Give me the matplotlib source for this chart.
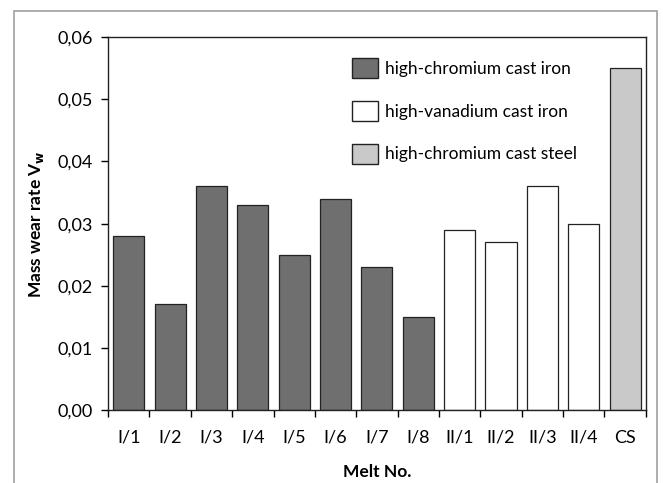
import numpy as np
import matplotlib
matplotlib.use("Agg")
import matplotlib.pyplot as plt
from matplotlib.patches import Rectangle, Patch
from matplotlib.ticker import FuncFormatter, FixedLocator

plt.rcParams['font.family'] = ['Lato', 'DejaVu Sans']

# data
melts = ["I/1", "I/2", "I/3", "I/4", "I/5", "I/6", "I/7", "I/8",
         "II/1", "II/2", "II/3", "II/4", "CS"]
wear_rate = [0.028, 0.017, 0.036, 0.033, 0.025, 0.034, 0.023, 0.015,
             0.029, 0.027, 0.036, 0.030, 0.055]
groups = ["cr_iron"] * 8 + ["v_iron"] * 4 + ["cr_steel"]
group_labels = {"cr_iron": "high-chromium cast iron",
                "v_iron": "high-vanadium cast iron",
                "cr_steel": "high-chromium cast steel"}
group_colors = {"cr_iron": "#6f6f6f", "v_iron": "#ffffff", "cr_steel": "#c9c9c9"}

fig = plt.figure(figsize=(6.63, 4.83), dpi=100)
ax = fig.add_axes([0.163, 0.151, 0.811, 0.772])

# grey outer frame like the exported chart area
fig.patches.append(Rectangle((0.021, -0.05), 0.97, 1.027, transform=fig.transFigure,
                             fill=False, edgecolor="#a0a0a0", linewidth=1.2))

x = np.arange(len(melts))
ax.bar(x, wear_rate, width=0.75, color=[group_colors[g] for g in groups],
       edgecolor="#222222", linewidth=0.9)

ax.set_xlim(-0.5, len(melts) - 0.5)
ax.set_ylim(0, 0.06)
ax.set_yticks(np.arange(0, 0.061, 0.01))
ax.yaxis.set_major_formatter(FuncFormatter(lambda v, p: f"{v:.2f}".replace(".", ",")))

# labels in the middle, tick marks between categories
ax.set_xticks(x)
ax.set_xticklabels(melts)
ax.xaxis.set_minor_locator(FixedLocator(np.arange(-0.5, len(melts), 1.0)))
ax.tick_params(axis="x", which="major", length=0, pad=14)
ax.tick_params(axis="x", which="minor", length=5, direction="out", width=1)
ax.tick_params(axis="y", length=5, direction="out", width=1, pad=6)
ax.tick_params(labelsize=13)

for s in ax.spines.values():
    s.set_color("#222222")
    s.set_linewidth(1)

ax.set_xlabel("Melt No.", fontsize=12.5, fontweight="bold", labelpad=13)
ax.set_ylabel(r"Mass wear rate V$_\mathbf{w}$", fontsize=12.5, fontweight="bold", labelpad=8)

handles = [Patch(facecolor=group_colors[k], edgecolor="#222222", label=group_labels[k])
           for k in ["cr_iron", "v_iron", "cr_steel"]]
ax.legend(handles=handles, loc="upper left", bbox_to_anchor=(0.425, 0.985), frameon=False,
          fontsize=12.5, handlelength=1.5, handleheight=1.4, labelspacing=1.3, handletextpad=0.4)

fig.savefig("out.png", dpi=100)
